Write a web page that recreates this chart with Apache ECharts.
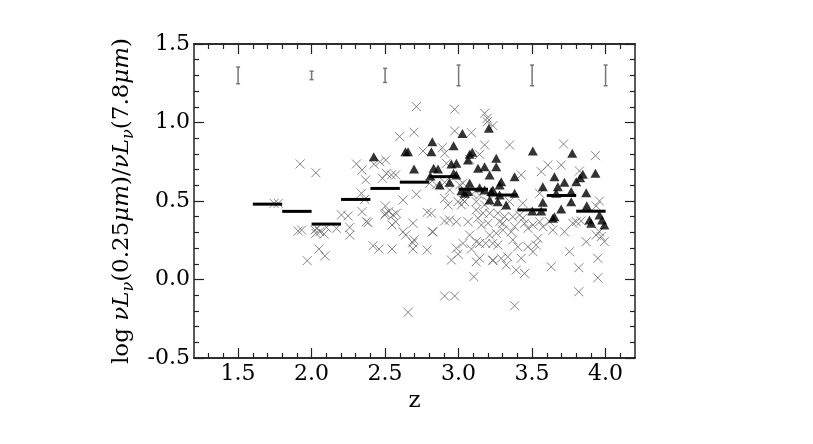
<!DOCTYPE html>
<html><head><meta charset="utf-8">
<script src="https://cdn.jsdelivr.net/npm/echarts@6/dist/echarts.min.js"></script>
<style>html,body{margin:0;padding:0;background:#fff}#c{width:813px;height:444px}</style>
</head><body><div id="c"></div>
<script>
const xMajorTicks = [1.5, 2.0, 2.5, 3.0, 3.5, 4.0];
const xMinorTicks = [1.3,1.4,1.6,1.7,1.8,1.9,2.1,2.2,2.3,2.4,2.6,2.7,2.8,2.9,3.1,3.2,3.3,3.4,3.6,3.7,3.8,3.9,4.1];

const crosses = [
[1.745,0.485],[1.773,0.485],[1.922,0.736],[2.029,0.68],[1.909,0.309],[1.932,0.315],[2.022,0.315],[2.038,0.326],[2.056,0.304],[2.101,0.332],[2.169,0.326],[2.029,0.294],[2.085,0.29],[2.051,0.194],[2.09,0.15],[1.97,0.12],[2.203,0.411],[2.248,0.405],[2.26,0.332],[2.26,0.283],
[2.305,0.736],[2.343,0.697],[2.368,0.634],[2.339,0.549],[2.362,0.511],[2.343,0.432],[2.373,0.368],[2.384,0.362],[2.418,0.215],[2.459,0.194],[2.547,0.194],[2.69,0.194],[2.656,-0.209],[2.688,0.234],[2.425,0.734],[2.464,0.75],[2.504,0.761],[2.482,0.645],[2.509,0.676],[2.543,0.666],[2.572,0.666],[2.599,0.91],[2.697,0.938],[2.713,1.101],[2.622,0.506],[2.713,0.543],[2.502,0.468],[2.525,0.432],[2.554,0.411],[2.577,0.422],[2.498,0.411],[2.547,0.347],[2.572,0.368],[2.622,0.304],[2.64,0.283],[2.69,0.358],[2.697,0.252],[2.758,0.818],[2.786,0.428],[2.821,0.304],[2.786,0.188],[2.504,0.422],
[2.973,1.084],[3.177,1.059],[3.195,1.027],[3.195,1.005],[2.973,0.946],[3.087,0.935],[3.177,0.857],[2.889,0.84],[2.905,0.804],[2.917,0.74],[3.075,0.765],[3.143,0.797],[2.803,0.613],[2.849,0.602],[2.905,0.619],[2.939,0.57],[2.928,0.475],[2.905,0.517],[3.007,0.602],[3.03,0.613],[2.996,0.496],[3.019,0.475],[3.041,0.496],[3.03,0.506],[3.093,0.545],[3.12,0.496],[3.143,0.538],[3.12,0.443],[3.177,0.475],[3.2,0.496],[2.815,0.422],[2.826,0.304],[2.905,0.373],[2.939,0.379],[2.985,0.368],[3.064,0.368],[3.132,0.39],[3.155,0.347],[3.2,0.358],[3.166,0.422],[3.075,0.283],[3.03,0.23],[2.985,0.199],[2.951,0.124],[2.996,0.161],[3.087,0.194],[3.12,0.241],[3.143,0.23],[3.184,0.23],[3.233,0.23],[3.12,0.113],[3.143,0.135],[3.104,0.018],[3.233,0.12],[2.905,-0.105],[2.973,-0.105],
[3.233,0.98],[3.347,0.857],[3.607,0.729],[3.562,0.687],[3.426,0.666],[3.347,0.496],[3.437,0.485],[3.551,0.549],[3.211,0.422],[3.267,0.422],[3.313,0.4],[3.279,0.368],[3.301,0.358],[3.369,0.4],[3.415,0.411],[3.437,0.39],[3.449,0.358],[3.472,0.326],[3.506,0.347],[3.551,0.368],[3.574,0.336],[3.619,0.368],[3.211,0.283],[3.256,0.294],[3.301,0.315],[3.358,0.304],[3.381,0.336],[3.233,0.124],[3.29,0.135],[3.335,0.145],[3.324,0.092],[3.403,0.209],[3.426,0.135],[3.392,0.06],[3.449,0.039],[3.472,0.209],[3.506,0.177],[3.528,0.22],[3.54,0.262],[3.267,0.22],[3.369,0.252],[3.63,0.081],[3.381,-0.167],
[3.714,0.863],[3.931,0.789],[3.698,0.729],[3.822,0.691],[3.958,0.5],[3.936,0.468],[3.641,0.315],[3.72,0.304],[3.777,0.358],[3.8,0.368],[3.834,0.373],[3.868,0.241],[3.936,0.283],[3.958,0.304],[3.97,0.273],[3.992,0.241],[3.754,0.177],[3.947,0.135],[3.818,0.075],[3.947,0.011],[3.818,-0.078]
];

const triangles = [
[2.423,0.782],[2.638,0.814],[2.656,0.814],[2.697,0.704],[2.821,0.878],[2.815,0.814],[2.83,0.708],[2.808,0.659],[3.026,0.93],[2.966,0.852],[3.206,0.963],[2.86,0.704],[2.951,0.736],[2.985,0.74],[2.966,0.676],[3.075,0.797],[3.093,0.81],[3.064,0.761],[3.132,0.708],[3.177,0.718],[3.211,0.666],[2.871,0.602],[2.939,0.619],[2.985,0.666],[3.075,0.613],[3.019,0.566],[3.041,0.549],[3.064,0.56],[3.177,0.57],[3.222,0.56],[3.211,0.506],[3.143,0.585],
[3.256,0.772],[3.256,0.718],[3.505,0.818],[3.381,0.655],[3.29,0.623],[3.279,0.602],[3.233,0.57],[3.279,0.538],[3.267,0.496],[3.324,0.475],[3.381,0.549],[3.573,0.591],[3.573,0.492],[3.562,0.436],[3.501,0.436],[3.641,0.39],[3.652,0.655],
[3.773,0.804],[3.931,0.676],[3.845,0.67],[3.827,0.648],[3.8,0.623],[3.72,0.619],[3.675,0.591],[3.664,0.549],[3.766,0.56],[3.868,0.553],[3.766,0.496],[3.698,0.449],[3.652,0.4],[3.872,0.47],[3.89,0.379],[3.902,0.358],[3.958,0.411],[3.976,0.379],[3.992,0.347]
];

const binStart  = [1.6, 1.8, 2.0, 2.2, 2.4, 2.6, 2.8, 3.0, 3.2, 3.4, 3.6, 3.8];
const binEnd    = [1.8, 2.0, 2.2, 2.4, 2.6, 2.8, 3.0, 3.2, 3.4, 3.6, 3.8, 4.0];
const binMedian = [0.48, 0.434, 0.353, 0.51, 0.58, 0.62, 0.655, 0.575, 0.538, 0.443, 0.535, 0.435];

const errX      = [1.5, 2.0, 2.5, 3.0, 3.5, 4.0];
const errCenter = [1.30, 1.30, 1.30, 1.30, 1.30, 1.30];
const errHalf   = [0.053, 0.027, 0.045, 0.066, 0.066, 0.066];

const FONT = 'DejaVu Serif';
const axisCol = '#222';
const chart = echarts.init(document.getElementById('c'), null, {renderer:'canvas'});

function xAxisDef(pos, ticks, len, labels) {
  return {
    type:'value', position:pos, min:1.2, max:4.2,
    axisLine:{show:true, onZero:false, lineStyle:{color:axisCol, width:1.5}},
    axisTick:{show:true, inside:true, length:len, customValues:ticks, lineStyle:{color:axisCol, width:1.2}},
    axisLabel: labels ? {show:true, customValues:xMajorTicks, formatter:v=>Number(v).toFixed(1), fontFamily:FONT, fontSize:22, color:'#000', margin:5} : {show:false},
    splitLine:{show:false}
  };
}
function yAxisDef(pos, labels) {
  return {
    type:'value', position:pos, min:-0.5, max:1.5, interval:0.5,
    axisLine:{show:true, onZero:false, lineStyle:{color:axisCol, width:1.5}},
    axisTick:{show:true, inside:true, length:10, lineStyle:{color:axisCol, width:1.2}},
    minorTick:{show:true, splitNumber:5, length:5, lineStyle:{color:axisCol, width:1.2}},
    axisLabel: labels ? {show:true, formatter:v=>Number(v).toFixed(1), fontFamily:FONT, fontSize:22, color:'#000', margin:4} : {show:false},
    splitLine:{show:false}, minorSplitLine:{show:false}
  };
}

const xBottom = xAxisDef('bottom', xMajorTicks, 10, true);
xBottom.name = 'z';
xBottom.nameLocation = 'middle';
xBottom.nameGap = 27;
xBottom.nameTextStyle = {fontFamily:FONT, fontSize:23, color:'#000'};

const yLeft = yAxisDef('left', true);
yLeft.name = '{n|log }{i|νL}{s|ν}{n|(0.25}{i|μm}{n|)/}{i|νL}{s|ν}{n|(7.8}{i|μm}{n|)}';
yLeft.nameLocation = 'middle';
yLeft.nameGap = 43;
yLeft.nameTextStyle = {
  fontFamily:FONT, fontSize:23, color:'#000',
  rich:{
    n:{fontFamily:FONT, fontSize:23, color:'#000'},
    i:{fontFamily:FONT, fontSize:23, fontStyle:'italic', color:'#000'},
    s:{fontFamily:FONT, fontSize:16, fontStyle:'italic', color:'#000', padding:[13,0,0,0]}
  }
};

const option = {
  animation:false,
  backgroundColor:'#fff',
  grid:{left:194, right:178, top:44, bottom:86, containLabel:false},
  xAxis:[
    xBottom,
    xAxisDef('bottom', xMinorTicks, 5, false),
    xAxisDef('top', xMajorTicks, 10, false),
    xAxisDef('top', xMinorTicks, 5, false)
  ],
  yAxis:[ yLeft, yAxisDef('right', false) ],
  series:[
    {
      type:'scatter', xAxisIndex:0, yAxisIndex:0,
      data:crosses,
      symbol:'path://M0,0L10,10M10,0L0,10',
      symbolSize:9,
      itemStyle:{color:'none', borderColor:'#666', borderWidth:1}
    },
    {
      type:'scatter', xAxisIndex:0, yAxisIndex:0,
      data:triangles,
      symbol:'triangle',
      symbolSize:[10,9],
      itemStyle:{color:'#000'}
    },
    {
      type:'custom', xAxisIndex:0, yAxisIndex:0,
      data:binStart.map((s,i)=>[s, binEnd[i], binMedian[i]]),
      encode:{x:[0,1], y:2},
      renderItem:(params, api)=>{
        const p0 = api.coord([api.value(0), api.value(2)]);
        const p1 = api.coord([api.value(1), api.value(2)]);
        return {type:'line', shape:{x1:p0[0], y1:p0[1], x2:p1[0], y2:p1[1]}, style:{stroke:'#000', lineWidth:3}};
      },
      z:5
    },
    {
      type:'custom', xAxisIndex:0, yAxisIndex:0,
      data:errX.map((x,i)=>[x, errCenter[i]-errHalf[i], errCenter[i]+errHalf[i]]),
      encode:{x:0, y:[1,2]},
      renderItem:(params, api)=>{
        const lo = api.coord([api.value(0), api.value(1)]);
        const hi = api.coord([api.value(0), api.value(2)]);
        const w = 2;
        const st = {stroke:'#777', lineWidth:1.5};
        return {type:'group', children:[
          {type:'line', shape:{x1:lo[0], y1:lo[1], x2:hi[0], y2:hi[1]}, style:st},
          {type:'line', shape:{x1:lo[0]-w, y1:lo[1], x2:lo[0]+w, y2:lo[1]}, style:st},
          {type:'line', shape:{x1:hi[0]-w, y1:hi[1], x2:hi[0]+w, y2:hi[1]}, style:st}
        ]};
      }
    }
  ]
};
chart.setOption(option);
</script>
</body></html>
